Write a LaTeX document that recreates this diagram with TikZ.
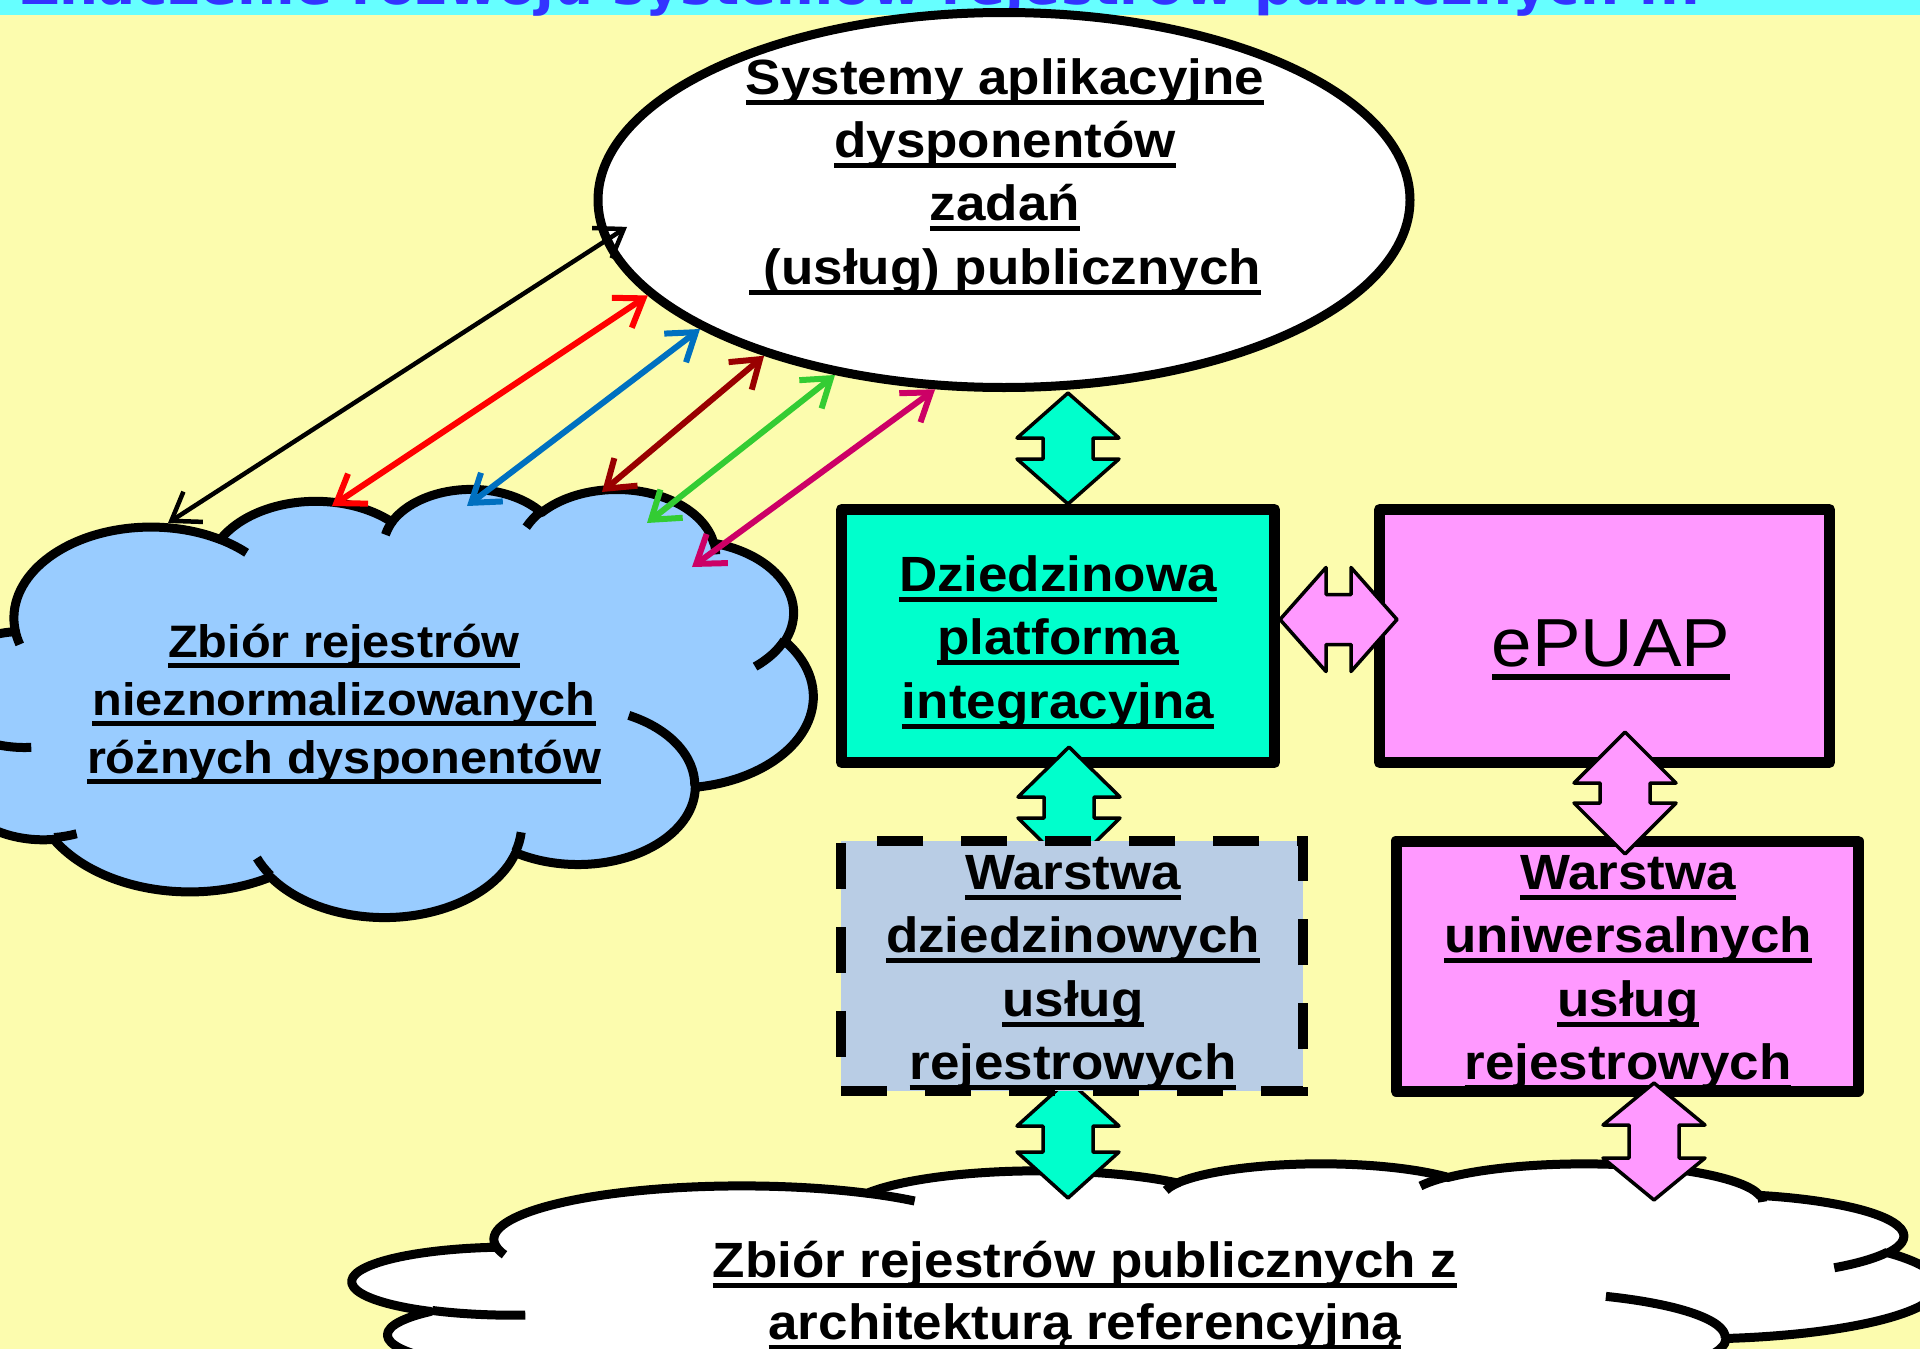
\documentclass[tikz,border=0pt]{standalone}
\usepackage{fontspec}
\setmainfont{Liberation Sans}
\newfontfamily\titlefont{DejaVu Sans}
\usepackage{graphicx}
\usetikzlibrary{arrows.meta,shapes.geometric}
\definecolor{bgyel}{HTML}{FCFCAE}
\definecolor{bandcyan}{HTML}{66FFFF}
\definecolor{titleblue}{HTML}{3333FF}
\definecolor{aqua}{HTML}{00FFCC}
\definecolor{pinkf}{HTML}{FF99FF}
\definecolor{cloudblue}{HTML}{99CCFF}
\definecolor{steelf}{HTML}{B9CDE5}
\definecolor{arrblue}{HTML}{0070C0}
\definecolor{arrdred}{HTML}{990000}
\definecolor{arrgreen}{HTML}{33CC33}
\definecolor{arrmag}{HTML}{CC0066}

% underlined text: #1 depth of rule bottom, #2 thickness, #3 content
\newcommand\ulx[3]{\setbox0=\hbox{#3}\rlap{\rule[-#1]{\wd0}{#2}}\box0}
\newcommand\mt[1]{\ulx{10.5pt}{5pt}{\scalebox{1.07}[1]{#1}}}

% PowerPoint-style elliptical arc (visual angles -> parametric)
\newcommand\carc[4]{\pgfextra{%
 \pgfmathsetmacro\cloudTA{atan2((#1)*sin(#3),(#2)*cos(#3))}%
 \pgfmathsetmacro\cloudTB{atan2((#1)*sin((#3)+(#4)),(#2)*cos((#3)+(#4)))}%
 \pgfmathsetmacro\cloudTD{mod((\cloudTB)-(\cloudTA)+720,360)}}%
 arc[start angle=\cloudTA, delta angle=\cloudTD, x radius=#1, y radius=#2]}

\newcommand\cloudouter{(39,143.7)
 \carc{67.53}{91.90}{-190.4875}{123.7805}
 \carc{53.33}{72.67}{-144.1024}{89.9452}
 \carc{43.65}{59.45}{-145.8079}{99.7230}
 \carc{48.57}{65.95}{-130.9861}{117.2417}
 \carc{53.33}{72.73}{-78.7089}{109.0269}
 \carc{67.75}{92.20}{-46.2673}{130.2690}
 \carc{57.85}{78.67}{0.6250}{114.0333}
 \carc{67.52}{92.15}{22.4516}{115.1726}
 \carc{77.20}{105.43}{66.2426}{75.7110}
 \carc{43.60}{59.18}{-274.9421}{146.7356}
 \carc{43.45}{59.45}{-246.8285}{152.5189} -- cycle}

\newcommand\cloudinner{
 (46.93,261.77) \carc{43.45}{59.45}{86.7420}{26.4295}
 (69.28,348.99) \carc{43.60}{59.18}{73.6105}{11.4475}
 (164.78,390.90) \carc{67.52}{92.15}{137.6242}{14.0811}
 (288.27,347.51) \carc{67.52}{92.15}{6.4533}{15.9984}
 (341.29,229.54) \carc{57.85}{78.67}{-70.2924}{70.9174}
 (417.98,153.54) \carc{53.33}{72.73}{30.3180}{27.7515}
 (383.24,54.26) \carc{48.57}{65.95}{-13.7443}{14.8589}
 (290.78,39.52) \carc{48.57}{65.95}{-149.1815}{18.1954}
 (221.41,47.20) \carc{43.65}{59.45}{-163.4943}{17.6864}
 (140.00,51.92) \carc{67.53}{91.90}{-66.7070}{12.3194}
 (41.27,157.89) \carc{67.53}{91.90}{157.6544}{11.8582}}

\newcommand\vbarrow[5]{% fill, cx, ytop, ybot, head length
 \draw[blockarr, fill=#1] (#2,#3) -- ({#2+51},{#3+#5}) -- ({#2+25},{#3+#5}) -- ({#2+25},{#4-#5})
  -- ({#2+51},{#4-#5}) -- (#2,#4) -- ({#2-51},{#4-#5}) -- ({#2-25},{#4-#5})
  -- ({#2-25},{#3+#5}) -- ({#2-51},{#3+#5}) -- cycle;}
\newcommand\hbarrow[5]{% fill, cy, xleft, xright, head length
 \draw[blockarr, fill=#1] (#3,#2) -- ({#3+#5},{#2-52}) -- ({#3+#5},{#2-25}) -- ({#4-#5},{#2-25})
  -- ({#4-#5},{#2-52}) -- (#4,#2) -- ({#4-#5},{#2+52}) -- ({#4-#5},{#2+25})
  -- ({#3+#5},{#2+25}) -- ({#3+#5},{#2+52}) -- cycle;}

\tikzset{
 lab/.style={inner sep=0pt, outer sep=0pt, anchor=base, font=\bfseries\fontsize{49.5}{60}\selectfont},
 labs/.style={inner sep=0pt, outer sep=0pt, anchor=base, font=\bfseries\fontsize{45.5}{56}\selectfont},
 cloudline/.style={line width=9pt, line join=round},
 boxnode/.style={draw, line width=11pt, line join=round, inner sep=0pt, outer sep=0pt},
 blockarr/.style={draw=black, line width=3.5pt, line join=round},
 thinarr/.style={line width=6pt, {Straight Barb[length=26pt,width=36pt]}-{Straight Barb[length=26pt,width=36pt]}},
}

\begin{document}
\begin{tikzpicture}[x=1pt,y=-1pt]
\useasboundingbox (0,0) rectangle (1920,1349);
\clip (0,0) rectangle (1920,1349);
\fill[bgyel] (0,0) rectangle (1920,1349);
\fill[bandcyan] (0,0) rectangle (1920,15);
\begin{scope}
 \clip (0,0) rectangle (1920,15);
 \node[anchor=base west, inner sep=0pt, text=titleblue] (T) at (20,5)
  {\resizebox{1680pt}{!}{\titlefont\bfseries Znaczenie rozwoju systemów rejestrów publicznych ...}};
\end{scope}

% bottom cloud
\begin{scope}[shift={(353,1163)}, xscale=3.671, yscale=0.581]
 \draw[cloudline, fill=white] \cloudouter;
 \draw[cloudline] \cloudinner;
\end{scope}
\node[lab] (C2a) at (1085,1277) {\mt{Zbiór rejestrów publicznych z}};
\node[lab] (C2b) at (1085,1339) {\mt{architekturą referencyjną}};

% left cloud
\begin{scope}[shift={(-64,488)}, xscale=2.030, yscale=0.9907]
 \draw[cloudline, fill=cloudblue] \cloudouter;
 \draw[cloudline] \cloudinner;
\end{scope}
\node[labs] (C1a) at (344,657) {\mt{Zbiór rejestrów}};
\node[labs] (C1b) at (344,715) {\mt{nieznormalizowanych}};
\node[labs] (C1c) at (344,773) {\mt{różnych dysponentów}};

% ellipse
\node[ellipse, draw, line width=9pt, fill=white, minimum width=812pt, minimum height=375pt, inner sep=0pt] (E) at (1004,200) {};
\node[lab] (E1) at (1005,94) {\mt{Systemy aplikacyjne}};
\node[lab] (E2) at (1005,157) {\mt{dysponentów}};
\node[lab] (E3) at (1005,220) {\mt{zadań}};
\node[lab] (E4) at (1005,284) {\mt{\ (usług) publicznych}};

% boxes
\node[boxnode, fill=aqua, minimum width=433pt, minimum height=253pt] (DPI) at (1058,636) {};
\node[lab] (D1) at (1058,591) {\mt{Dziedzinowa}};
\node[lab] (D2) at (1058,654) {\mt{platforma}};
\node[lab] (D3) at (1058,718) {\mt{integracyjna}};

\node[boxnode, fill=pinkf, minimum width=450pt, minimum height=253pt] (EP) at (1604.5,636) {};
\node[inner sep=0pt, anchor=base, font=\fontsize{68}{80}\selectfont] (EPt) at (1611,666)
  {\ulx{14pt}{6pt}{\scalebox{1.07}[1]{ePUAP}}};

\node[boxnode, fill=pinkf, minimum width=462pt, minimum height=250pt] (B4) at (1627,966) {};
\node[lab] (U1) at (1628,889) {\mt{Warstwa}};
\node[lab] (U2) at (1628,952) {\mt{uniwersalnych}};
\node[lab] (U3) at (1628,1016) {\mt{usług}};
\node[lab] (U4) at (1628,1079) {\mt{rejestrowych}};

% block arrows
\vbarrow{aqua}{1068}{393}{504}{45}
\hbarrow{pinkf}{619.5}{1280}{1397}{46}
\vbarrow{aqua}{1069}{747}{868}{50}
\vbarrow{aqua}{1068}{1080}{1198}{46}

% dashed box
\node[boxnode, line width=10pt, dash pattern=on 46pt off 38pt, line join=miter, fill=steelf, minimum width=462pt, minimum height=250pt] (B3) at (1072,966) {};
\node[lab] (W1) at (1073,889) {\mt{Warstwa}};
\node[lab] (W2) at (1073,952) {\mt{dziedzinowych}};
\node[lab] (W3) at (1073,1016) {\mt{usług}};
\node[lab] (W4) at (1073,1079) {\mt{rejestrowych}};

\vbarrow{pinkf}{1625}{732}{854}{51}
\vbarrow{pinkf}{1654}{1083}{1200}{42}

% thin arrows between ellipse and left cloud
\coordinate (k1) at (168,523);
\coordinate (k2) at (332,506);
\coordinate (k3) at (467,506);
\coordinate (k4) at (602,492);
\coordinate (k5) at (647,523);
\coordinate (k6) at (692,567);
\draw[thinarr, black, line width=4.5pt, shorten >=-28pt] (k1) -- (E.186.1);
\draw[thinarr, red] (k2) -- (E.195.9);
\draw[thinarr, arrblue] (k3) -- (E.203.3);
\draw[thinarr, arrdred] (k4) -- (E.213.6);
\draw[thinarr, arrgreen] (k5) -- (E.226.5);
\draw[thinarr, arrmag] (k6) -- (E.250.9);
\end{tikzpicture}
\end{document}
